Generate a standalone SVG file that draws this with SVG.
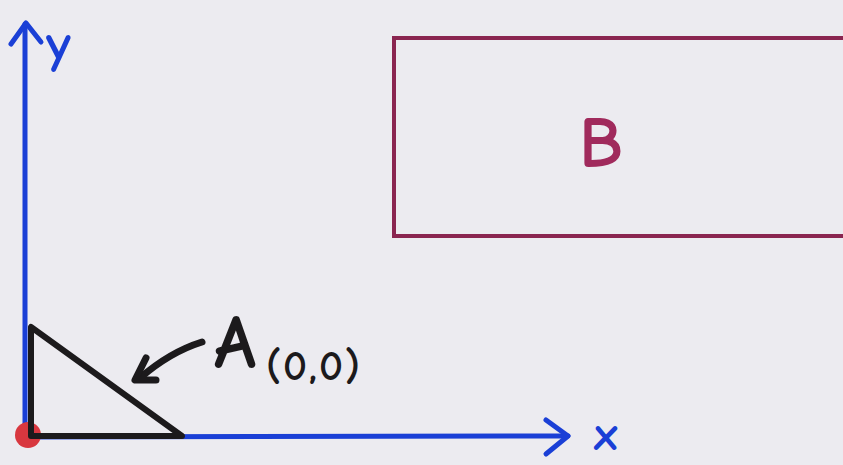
<svg xmlns="http://www.w3.org/2000/svg" width="843" height="465" viewBox="0 0 843 465">
<style>
.axis{stroke:#1a3fd6;stroke-width:5;fill:none;stroke-linecap:round;stroke-linejoin:round}
.ink{stroke:#1c1a1c;fill:none;stroke-linecap:round;stroke-linejoin:round}
.lbl{font-family:"Comic Neue","Liberation Sans",sans-serif;font-weight:bold}
</style>
<rect width="843" height="465" fill="#ecebf0"/>
<g id="connectors">
<path class="axis" d="M25,440 L25,24"/>
<path class="axis" d="M11,44 L26,23 L41,42" stroke-width="7"/>
<path class="axis" d="M25,437 L568,436"/>
<path class="axis" d="M546,420 L568,436 L546,454" stroke-width="7"/>
<path class="ink" stroke-width="7" d="M202,342 Q170,352 140,378"/>
<path class="ink" stroke-width="7" d="M146,358 L135,380 L156,380"/>
</g>
<g id="origin">
<circle cx="28" cy="435" r="13" fill="#d8373f"/>
</g>
<g id="A">
<path class="ink" stroke-width="6" d="M31,327 L31,436 L182,436 Z"/>
<text class="lbl" x="214" y="368" font-size="76" fill="#1c1a1c">A</text>
<text class="lbl" x="266" y="380" font-size="42" fill="#1c1a1c" letter-spacing="2">(0,0)</text>
</g>
<g id="B">
<path d="M843,38 L394,38 L394,236 L843,236" stroke="#8a2550" stroke-width="4" fill="none"/>
<text class="lbl" x="601" y="167" font-size="72" fill="#a02a5c" text-anchor="middle">B</text>
</g>
<g id="labels">
<text class="lbl" x="46" y="62" font-size="54" fill="#1a3fd6">y</text>
<text class="lbl" x="594" y="450" font-size="48" fill="#1a3fd6">x</text>
</g>
</svg>
